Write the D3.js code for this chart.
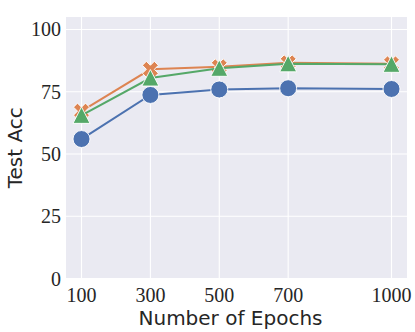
<!DOCTYPE html>
<html>
<head>
<meta charset="utf-8">
<script src="https://cdn.jsdelivr.net/npm/d3@7"></script>
<style>
body{margin:0;background:#fff;}
</style>
</head>
<body>
<div id="container"></div>
<script>
var width = 415;
var height = 332;

// data
var epochs = [100, 300, 500, 700, 1000];
var blueAcc = [56.0, 73.7, 75.9, 76.4, 76.1];
var orangeAcc = [67.2, 84.0, 85.0, 86.6, 86.2];
var greenAcc = [65.5, 80.5, 84.4, 86.2, 86.0];
var yTicks = [0, 25, 50, 75, 100];

var series = [
	{name: "blue", values: blueAcc, color: "#4C72B0", marker: "o"},
	{name: "orange", values: orangeAcc, color: "#DD8452", marker: "X"},
	{name: "green", values: greenAcc, color: "#55A868", marker: "^"}
];

var pLeft = 66, pRight = 407, pTop = 17, pBottom = 278.5;

var x = d3.scaleLinear().domain([55, 1045]).range([pLeft, pRight]);
var y = d3.scaleLinear().domain([0, 105]).range([pBottom, pTop]);

var svg = d3.select('div#container')
	.append('svg')
	.attr('width', width)
	.attr('height', height);

svg.append('rect')
	.attr('x', pLeft).attr('y', pTop)
	.attr('width', pRight-pLeft).attr('height', pBottom-pTop)
	.attr('fill', '#EAEAF2');

//grid
svg.append('g').selectAll('line')
	.data(yTicks)
	.enter().append('line')
	.attr('x1', pLeft).attr('x2', pRight)
	.attr('y1', function(d){return y(d);}).attr('y2', function(d){return y(d);})
	.attr('stroke', '#fff').attr('stroke-width', 1.1);

svg.append('g').selectAll('line')
	.data(epochs)
	.enter().append('line')
	.attr('y1', pTop).attr('y2', pBottom)
	.attr('x1', function(d){return x(d);}).attr('x2', function(d){return x(d);})
	.attr('stroke', '#fff').attr('stroke-width', 1.1);

//tick labels
svg.append('g').selectAll('text')
	.data(yTicks)
	.enter().append('text')
	.attr('x', 61)
	.attr('y', function(d){return y(d);})
	.attr('dy', '0.35em')
	.attr('text-anchor', 'end')
	.attr('font-family', 'Liberation Serif, DejaVu Serif, serif')
	.attr('font-size', 20)
	.attr('fill', '#262626')
	.text(function(d){return d;});

svg.append('g').selectAll('text')
	.data(epochs)
	.enter().append('text')
	.attr('x', function(d){return x(d);})
	.attr('y', 302)
	.attr('text-anchor', 'middle')
	.attr('font-family', 'Liberation Serif, DejaVu Serif, serif')
	.attr('font-size', 20)
	.attr('fill', '#262626')
	.text(function(d){return d;});

//axis labels
svg.append('text')
	.attr('x', (pLeft+pRight)/2 - 6)
	.attr('y', 325)
	.attr('text-anchor', 'middle')
	.attr('font-family', 'DejaVu Sans, sans-serif')
	.attr('font-size', 20)
	.attr('fill', '#262626')
	.text('Number of Epochs');

svg.append('text')
	.attr('transform', 'translate(22,' + ((pTop+pBottom)/2) + ') rotate(-90)')
	.attr('text-anchor', 'middle')
	.attr('font-family', 'DejaVu Sans, sans-serif')
	.attr('font-size', 20)
	.attr('fill', '#262626')
	.text('Test Acc');

var line = d3.line()
	.x(function(d, i){return x(epochs[i]);})
	.y(function(d){return y(d);});

var triPath = "M0,-8.5L8.5,8L-8.5,8Z";
var xPath = d3.symbol().type(d3.symbolCross).size(160)();

series.forEach(function(s){
	var g = svg.append('g');
	g.append('path')
		.attr('d', line(s.values))
		.attr('fill', 'none')
		.attr('stroke', s.color)
		.attr('stroke-width', 2);
	g.selectAll('.m')
		.data(s.values)
		.enter()
		.append(function(){
			return document.createElementNS('http://www.w3.org/2000/svg', s.marker == 'o' ? 'circle' : 'path');
		})
		.each(function(d, i){
			var el = d3.select(this);
			var cx = x(epochs[i]), cy = y(d);
			if(s.marker == 'o'){
				el.attr('cx', cx).attr('cy', cy).attr('r', 8.5);
			}else if(s.marker == '^'){
				el.attr('d', triPath).attr('transform', 'translate(' + cx + ',' + cy + ')');
			}else{
				el.attr('d', xPath).attr('transform', 'translate(' + cx + ',' + cy + ') rotate(45)');
			}
		})
		.attr('fill', s.color)
		.attr('stroke', '#fff')
		.attr('stroke-width', 0.9);
});
</script>
</body>
</html>
